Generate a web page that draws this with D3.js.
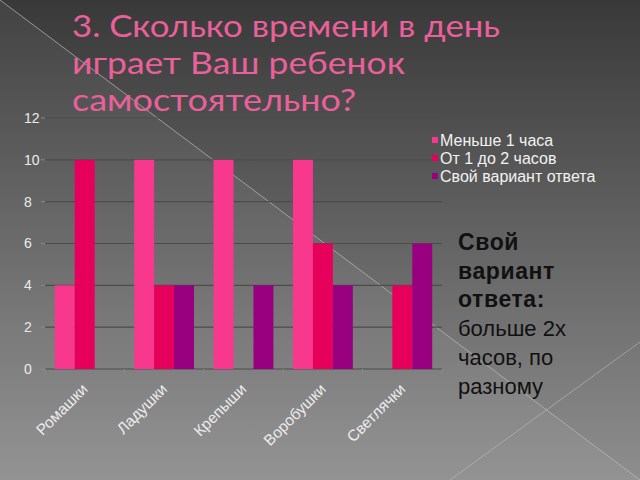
<!DOCTYPE html>
<html><head><meta charset="utf-8">
<script src="https://cdn.jsdelivr.net/npm/d3@7"></script>
<style>html,body{margin:0;padding:0;background:#555;}svg{display:block;}</style>
</head><body>
<script>
const categories = ["Ромашки", "Ладушки", "Крепыши", "Воробушки", "Светлячки"];
const seriesNames = ["Меньше 1 часа", "От 1 до 2 часов", "Свой вариант ответа"];
const lessThan1 = [4, 10, 10, 10, 0];
const from1to2 = [10, 4, 0, 6, 4];
const ownAnswer = [0, 4, 4, 4, 6];
const yTicks = [0, 2, 4, 6, 8, 10, 12];
const titleLines = ["3. Сколько времени в день", "играет Ваш ребенок", "самостоятельно?"];
const noteBold = ["Свой", "вариант", "ответа:"];
const noteNormal = ["больше 2х", "часов, по", "разному"];
const colors = ["#F7388C", "#E6005C", "#98007F"];
const seriesValues = [lessThan1, from1to2, ownAnswer];

const W = 640, H = 480;
const svg = d3.select("body").append("svg").attr("width", W).attr("height", H);
const defs = svg.append("defs");
const g = defs.append("linearGradient").attr("id", "bg").attr("x1", 0).attr("y1", 0).attr("x2", 0).attr("y2", 1);
g.append("stop").attr("offset", "0%").attr("stop-color", "#393939");
g.append("stop").attr("offset", "100%").attr("stop-color", "#8e8e8e");
svg.append("rect").attr("width", W).attr("height", H).attr("fill", "url(#bg)");
svg.append("path").attr("d", "M0,0 L640,480 L0,480 Z").attr("fill", "#fff").attr("opacity", 0.05);
svg.append("line").attr("x1", 0).attr("y1", 0).attr("x2", 640).attr("y2", 480)
  .attr("stroke", "#bdbdbd").attr("stroke-width", 1).attr("opacity", 0.7);
svg.append("line").attr("x1", 640).attr("y1", 342).attr("x2", 450).attr("y2", 480)
  .attr("stroke", "#bdbdbd").attr("stroke-width", 1).attr("opacity", 0.6);

// title
const titleWidths = [428, 333, 284];
const title = svg.append("g");
titleLines.forEach((t, i) => {
  title.append("text").attr("x", 72).attr("y", 37 + i * 37)
    .attr("font-family", "'URW Gothic', 'Century Gothic', Lato, 'Open Sans', sans-serif")
    .attr("font-size", 31).attr("fill", "#E9609A")
    .attr("textLength", titleWidths[i]).attr("lengthAdjust", "spacingAndGlyphs").text(t);
});

// chart
const x0 = d3.scaleBand().domain(categories).range([45, 442]).paddingInner(0).paddingOuter(0);
const x1 = d3.scaleBand().domain(d3.range(seriesNames.length)).range([0, x0.bandwidth()]).paddingInner(0).paddingOuter(0.49);
const y = d3.scaleLinear().domain([0, 12]).range([369, 118]);

const grid = svg.append("g");
grid.selectAll("line").data(yTicks).join("line")
  .attr("x1", 45).attr("x2", 442).attr("y1", d => y(d)).attr("y2", d => y(d))
  .attr("stroke", "#4c4c4c").attr("stroke-width", 1.2);
grid.selectAll("line.tk").data(yTicks).join("line").attr("class", "tk")
  .attr("x1", 41).attr("x2", 45).attr("y1", d => y(d)).attr("y2", d => y(d))
  .attr("stroke", "#8a8a8a");
const bounds = categories.map(c => x0(c)).concat([x0.range()[1]]);
grid.selectAll("line.ct").data(bounds).join("line").attr("class", "ct")
  .attr("x1", d => d).attr("x2", d => d).attr("y1", 369).attr("y2", 374)
  .attr("stroke", "#8a8a8a");

svg.append("g").selectAll("text").data(yTicks).join("text")
  .attr("x", 24).attr("y", d => y(d)).attr("dy", "0.35em")
  .attr("font-family", "Liberation Sans, Arial, sans-serif").attr("font-size", 14)
  .attr("fill", "#ececec").text(d => d);

const bars = svg.append("g");
categories.forEach((c, ci) => {
  seriesValues.forEach((vals, si) => {
    const v = vals[ci];
    if (v <= 0) return;
    bars.append("rect")
      .attr("x", x0(c) + x1(si)).attr("width", x1.bandwidth())
      .attr("y", y(v)).attr("height", y(0) - y(v))
      .attr("fill", colors[si]);
  });
});

// category labels
svg.append("g").selectAll("text").data(categories).join("text")
  .attr("transform", d => `translate(${x0(d) + x0.bandwidth() / 2 + 4},${390}) rotate(-45)`)
  .attr("text-anchor", "end")
  .attr("font-family", "Liberation Sans, Arial, sans-serif").attr("font-size", 15.5)
  .attr("fill", "#ececec").text(d => d);

// legend
const leg = svg.append("g");
seriesNames.forEach((s, i) => {
  const cy = 140 + i * 18;
  leg.append("rect").attr("x", 432).attr("y", cy - 3).attr("width", 6).attr("height", 6).attr("fill", colors[i]);
  leg.append("text").attr("x", 440).attr("y", cy).attr("dy", "0.35em")
    .attr("font-family", "Liberation Sans, Arial, sans-serif").attr("font-size", 16)
    .attr("fill", "#f2f2f2").text(s);
});

// note
const note = svg.append("g").attr("font-family", "Liberation Sans, Arial, sans-serif").attr("fill", "#111");
const noteLines = noteBold.map(t => ({t, b: true})).concat(noteNormal.map(t => ({t, b: false})));
noteLines.forEach((d, i) => {
  note.append("text").attr("x", 458).attr("y", 250 + i * 28.7)
    .attr("font-size", d.b ? 23 : 22)
    .attr("letter-spacing", d.b ? 0.6 : 0)
    .attr("font-weight", d.b ? "bold" : "normal").text(d.t);
});
</script>
</body></html>
